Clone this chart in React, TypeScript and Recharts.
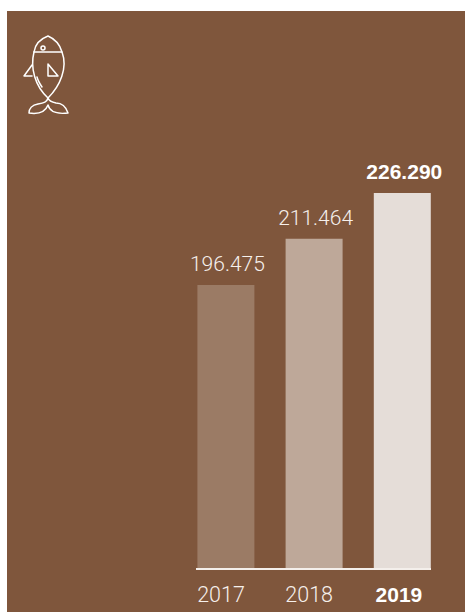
import { Bar, BarChart, Cell, LabelList, XAxis, YAxis } from "recharts";

const years = ["2017", "2018", "2019"];
const revenue = [196475, 211464, 226290];
const barColors = ["#9b7b65", "#bea899", "#e5ddd8"];
const highlightYear = "2019";

const rows = years.map((year, i) => ({ year, revenue: revenue[i] }));

const BOLD_FONT = '"Liberation Sans", Arial, sans-serif';
const LIGHT_FONT = 'Roboto, "Liberation Sans", sans-serif';
const LIGHT_TEXT = "#f6f0ec";

function formatThousands(value: number) {
	return String(value).replace(/\B(?=(\d{3})+$)/g, ".");
}

function YearTick({ x, y, payload }: any) {
	const bold = payload.value === highlightYear;
	return (
		<text
			x={x - (bold ? 3 : 4.5)}
			y={y + 25}
			textAnchor="middle"
			fontFamily={bold ? BOLD_FONT : LIGHT_FONT}
			fontSize={bold ? 21 : 21.5}
			fontWeight={bold ? 700 : 300}
			fill={bold ? "#ffffff" : LIGHT_TEXT}
		>
			{payload.value}
		</text>
	);
}

function ValueLabel({ x, y, width, value, index }: any) {
	const bold = years[index] === highlightYear;
	return (
		<text
			x={x + width / 2 + (bold ? 2 : 1.5)}
			y={y - 14}
			textAnchor="middle"
			fontFamily={bold ? BOLD_FONT : LIGHT_FONT}
			fontSize={21}
			fontWeight={bold ? 700 : 300}
			fill={bold ? "#ffffff" : LIGHT_TEXT}
		>
			{formatThousands(value)}
		</text>
	);
}

function FishIcon() {
	return (
		<svg
			width={90}
			height={120}
			viewBox="0 0 90 120"
			style={{ position: "absolute", left: 0, top: 0 }}
			fill="none"
			stroke="#ffffff"
			strokeWidth={1.5}
			strokeLinejoin="round"
			strokeLinecap="round"
		>
			{/* body */}
			<path d="M48 36 C40 39 35 45 34 52 C30 68 35 86 48 98 C60 86 68 68 62 52 C60 45 55 39 48 36 Z" />
			<path d="M34 52 H62" />
			<circle cx={43} cy={48} r={2} />
			{/* fins */}
			<path d="M32 65 L24 76 H32" />
			<path d="M48 64 L58 76 H48 Z" />
			<path d="M37 77 C38 81 40 84 42 87" />
			{/* tail */}
			<path d="M48 98 C47 102 44 103 38 104 C32 105 29 109 29 113 C36 114 45 113 48 105 C50 113 60 114 68 113 C66 107 62 103 56 103 C51 102 49 101 48 98 Z" />
		</svg>
	);
}

export default function App() {
	return (
		<div
			style={{
				position: "fixed",
				inset: 0,
				width: 465,
				height: 612,
				background: "#ffffff",
				overflow: "hidden",
			}}
		>
			<div
				style={{
					position: "absolute",
					left: 7,
					top: 11,
					right: 0,
					bottom: 0,
					background: "#7f563c",
				}}
			/>
			<FishIcon />
			<div style={{ position: "absolute", left: 0, top: 0 }}>
				<BarChart
					width={465}
					height={612}
					data={rows}
					margin={{ top: 193, right: 34, bottom: 0, left: 196 }}
					barSize={57}
				>
					<YAxis hide domain={[104445, 226290]} allowDataOverflow />
					<XAxis
						dataKey="year"
						height={43}
						padding={{ left: -14.6, right: -15 }}
						tickLine={false}
						axisLine={{ stroke: "#f4efeb", strokeWidth: 2 }}
						tick={<YearTick />}
						interval={0}
					/>
					<Bar dataKey="revenue" isAnimationActive={false}>
						{rows.map((row, i) => (
							<Cell key={row.year} fill={barColors[i]} />
						))}
						<LabelList dataKey="revenue" content={<ValueLabel />} />
					</Bar>
				</BarChart>
			</div>
		</div>
	);
}
